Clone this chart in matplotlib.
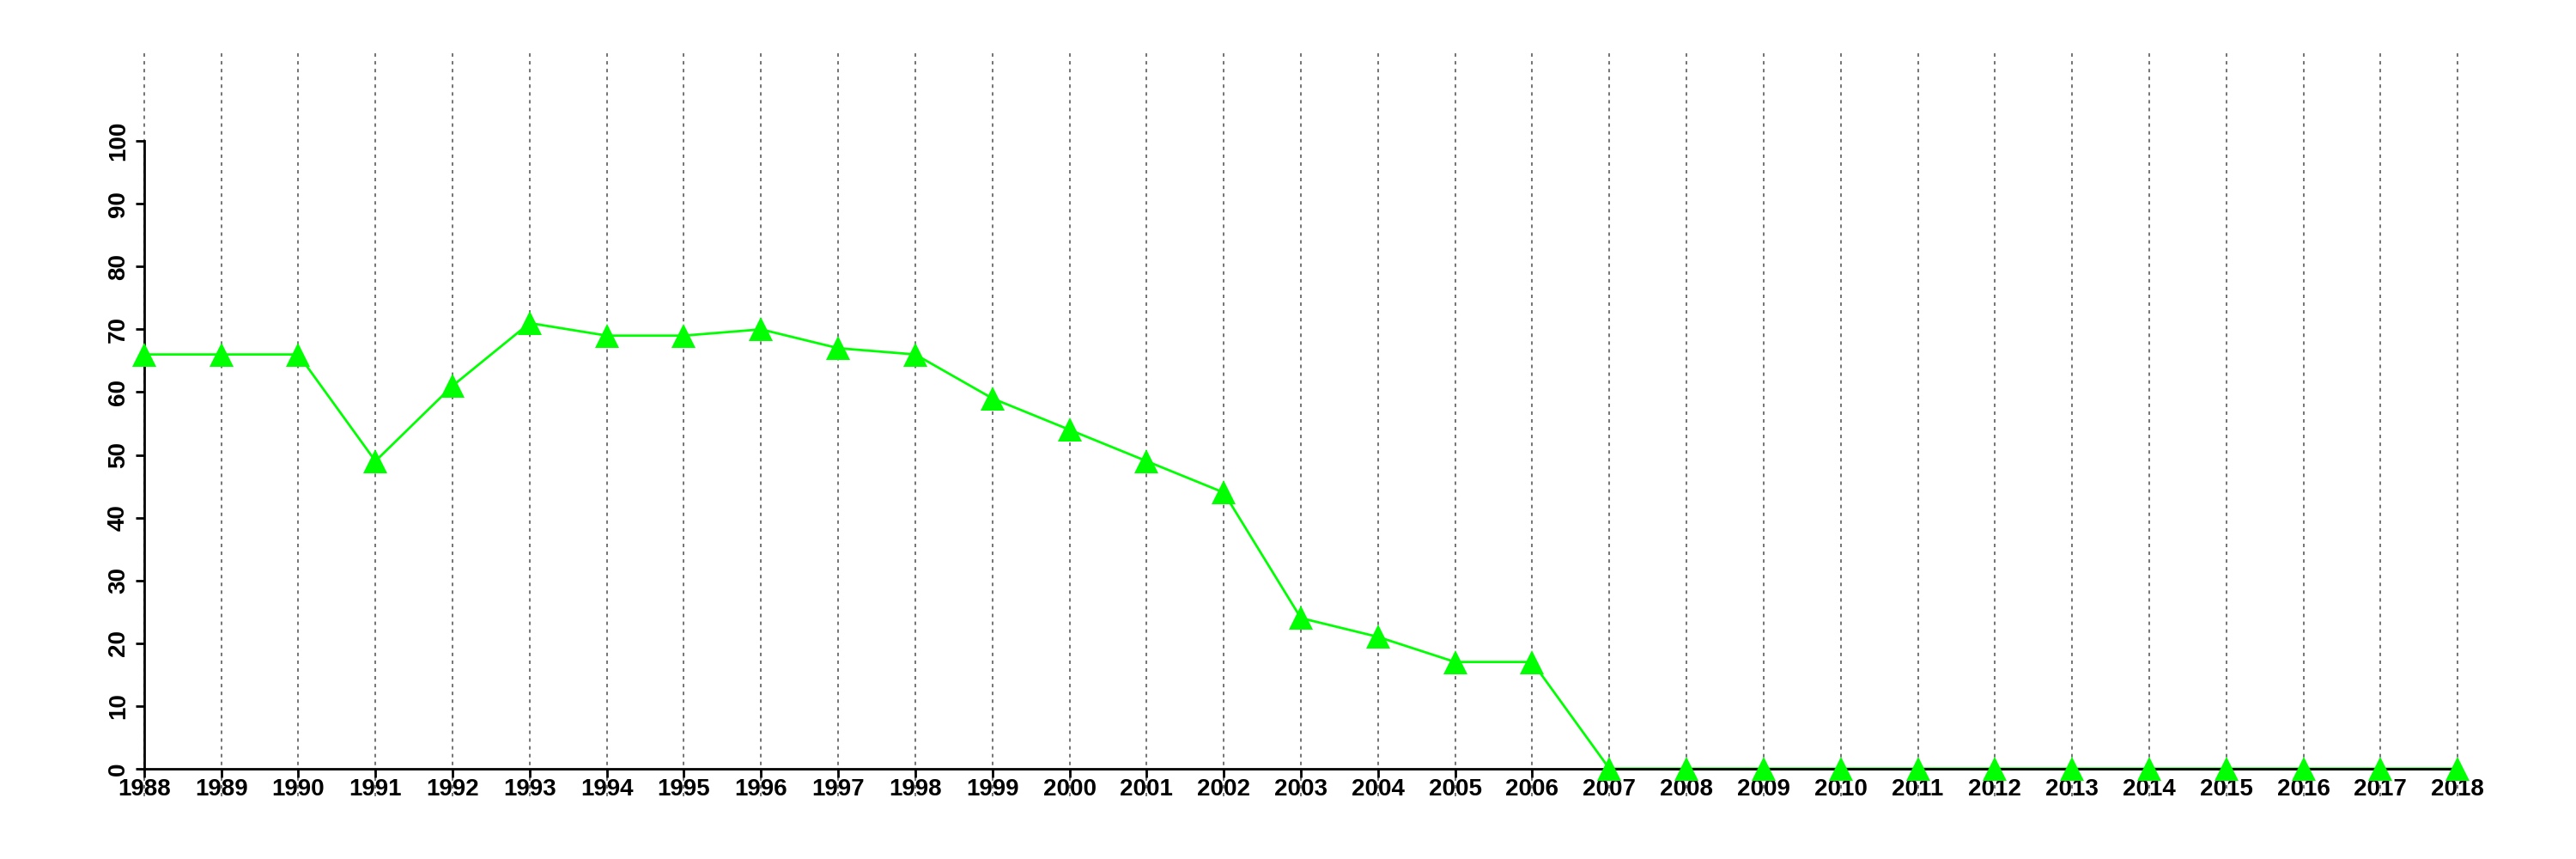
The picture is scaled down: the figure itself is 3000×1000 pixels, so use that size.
import matplotlib
matplotlib.use("Agg")
import matplotlib.pyplot as plt

# yearly values
years = list(range(1988, 2019))
values = [66, 66, 66, 49, 61, 71, 69, 69, 70, 67, 66, 59, 54, 49, 44,
          24, 21, 17, 17, 0, 0, 0, 0, 0, 0, 0, 0, 0, 0, 0, 0]
yticks = list(range(0, 101, 10))

plt.rcParams['font.family'] = ['Liberation Sans', 'DejaVu Sans']

fig = plt.figure(figsize=(30, 10), dpi=100)
ax = fig.add_axes([0.02, 0.073, 0.97, 0.868])

# R style ranges (4% padding)
ax.set_xlim(1988 - 1.2, 2018 + 1.2)
ax.set_ylim(-4.4, 114.4)

for y in years:
    ax.axvline(y, color='#777777', lw=1.45, ls=(0, (2, 2.5)), zorder=1)

ax.plot(years, values, color='#00ff00', lw=2, zorder=2)
ax.plot(years, values, ls='none', marker='^', ms=20, color='#00ff00',
        markeredgewidth=0, zorder=3)

for s in ['top', 'right']:
    ax.spines[s].set_visible(False)
ax.spines['left'].set_bounds(0, 100)
ax.spines['bottom'].set_bounds(1988, 2018)
ax.spines['left'].set_position(('data', 1988))
ax.spines['bottom'].set_position(('data', 0))
for s in ['left', 'bottom']:
    ax.spines[s].set_linewidth(2)

ax.set_xticks(years)
ax.set_xticklabels([str(y) for y in years])
ax.set_yticks(yticks)
ax.set_yticklabels([str(v) for v in yticks], rotation=90, va='center')
ax.tick_params(axis='both', length=7, width=2, labelsize=20, pad=1)
ax.tick_params(axis='y', pad=5)
for lab in ax.get_xticklabels() + ax.get_yticklabels():
    lab.set_fontweight('bold')

fig.savefig("out.png", dpi=100)
